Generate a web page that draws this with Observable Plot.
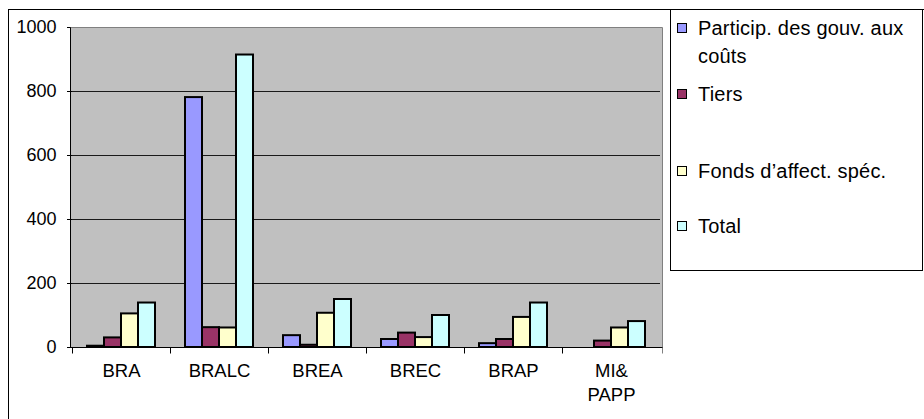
<!DOCTYPE html>
<html>
<head>
<meta charset="utf-8">
<script src="https://cdn.jsdelivr.net/npm/d3@7"></script>
<script src="https://cdn.jsdelivr.net/npm/@observablehq/plot@0.6"></script>
<style>
  html, body { margin: 0; padding: 0; background: #fff; overflow: hidden; }
  #chart { position: relative; width: 924px; height: 419px; font-family: "Liberation Sans", Arial, sans-serif; color: #000; }
  #chart svg { position: absolute; left: 0; top: 0; }
  #frame { position: absolute; left: 8px; top: 9px; width: 1000px; height: 1000px; border: 1px solid #000; box-sizing: border-box; }
  #legend { position: absolute; left: 670px; top: 9px; width: 253px; height: 262px; border: 1px solid #000; box-sizing: border-box; background: #fff; }
  .item { position: absolute; left: 27px; width: 224px; font-size: 20px; line-height: 28px; letter-spacing: 0.2px; white-space: normal; }
  .sw { position: absolute; left: -21px; width: 10px; height: 10px; border: 1.5px solid #000; box-sizing: border-box; }
</style>
</head>
<body>
<div id="chart">
  <div id="frame"></div>
  <div id="legend"></div>
</div>
<script>
// Categories (programmes) and the four series, in millions
const categories = ["BRA", "BRALC", "BREA", "BREC", "BRAP", "MI&\nPAPP"];
const series = ["Particip. des gouv. aux coûts", "Tiers", "Fonds d’affect. spéc.", "Total"];
const gouv  = [4, 781, 37, 25, 12, 0];
const tiers = [30, 62, 7, 45, 25, 20];
const fonds = [105, 61, 107, 31, 94, 61];
const total = [139, 914, 150, 100, 139, 81];
const colors = ["#9999FF", "#993366", "#FFFFCC", "#CCFFFF"];
const yTicks = [0, 200, 400, 600, 800, 1000];

const valueArrays = [gouv, tiers, fonds, total];
const rows = categories.flatMap((c, i) =>
  series.map((s, j) => ({category: c, series: s, value: valueArrays[j][i]}))
);

const plot = Plot.plot({
  width: 924,
  height: 419,
  marginLeft: 70,
  marginRight: 262,
  marginTop: 27,
  marginBottom: 72,
  style: {background: "transparent", fontFamily: "Liberation Sans, Arial, sans-serif", fontSize: "18px", color: "#000", overflow: "visible"},
  fx: {domain: categories, padding: 0, axis: null},
  x: {domain: series, paddingInner: 0, paddingOuter: 0.74, axis: null},
  y: {domain: [0, 1000], ticks: yTicks, tickFormat: d3.format("d"), tickSize: 5, tickPadding: 11, label: null},
  color: {domain: series, range: colors},
  marks: [
    Plot.ruleY(yTicks.slice(1, -1), {stroke: "#1a1a1a", strokeWidth: 1}),
    Plot.barY(rows, {fx: "category", x: "series", y: "value", fill: "series", stroke: "#000", strokeWidth: 2}),
    Plot.text(categories, {fx: d => d, text: d => d, frameAnchor: "bottom", lineAnchor: "top", dy: 12, fontSize: 18.5, lineHeight: 1.3, fill: "#000"})
  ]
});

document.getElementById("chart").appendChild(plot);

// Plot-area background, borders, axis lines and category boundary ticks
const svg = d3.select(plot);
const fxS = plot.scale("fx");
const yS = plot.scale("y");
const areaLeft = fxS.range[0], areaRight = fxS.range[1];
const areaBottom = yS.apply(0), areaTop = yS.apply(1000);

svg.insert("rect", ":first-child")
  .attr("x", areaLeft).attr("y", areaTop)
  .attr("width", areaRight - areaLeft).attr("height", areaBottom - areaTop)
  .attr("fill", "#C0C0C0");

const deco = svg.append("g").attr("transform", "translate(0.5,0.5)").attr("fill", "none");
deco.append("line").attr("x1", areaLeft).attr("x2", areaRight).attr("y1", areaTop).attr("y2", areaTop).attr("stroke", "#808080");
deco.append("line").attr("x1", areaRight).attr("x2", areaRight).attr("y1", areaTop).attr("y2", areaBottom + 6).attr("stroke", "#808080");
deco.append("line").attr("x1", areaLeft).attr("x2", areaLeft).attr("y1", areaTop).attr("y2", areaBottom).attr("stroke", "#000");
deco.append("line").attr("x1", areaLeft).attr("x2", areaRight).attr("y1", areaBottom).attr("y2", areaBottom).attr("stroke", "#000");
categories.forEach(c => {
  const x = fxS.apply(c);
  deco.append("line").attr("x1", x).attr("x2", x).attr("y1", areaBottom).attr("y2", areaBottom + 6).attr("stroke", "#000");
});

// Legend
const colorS = plot.scale("color");
const legendTops = [14, 80, 157, 212];
const legend = d3.select("#legend");
series.forEach((s, i) => {
  const item = legend.append("div").attr("class", "item").style("top", (legendTops[i] - 10) + "px");
  item.append("div").attr("class", "sw").style("top", "9px").style("background", colorS.apply(s));
  item.append("span").text(s);
});
</script>
</body>
</html>
